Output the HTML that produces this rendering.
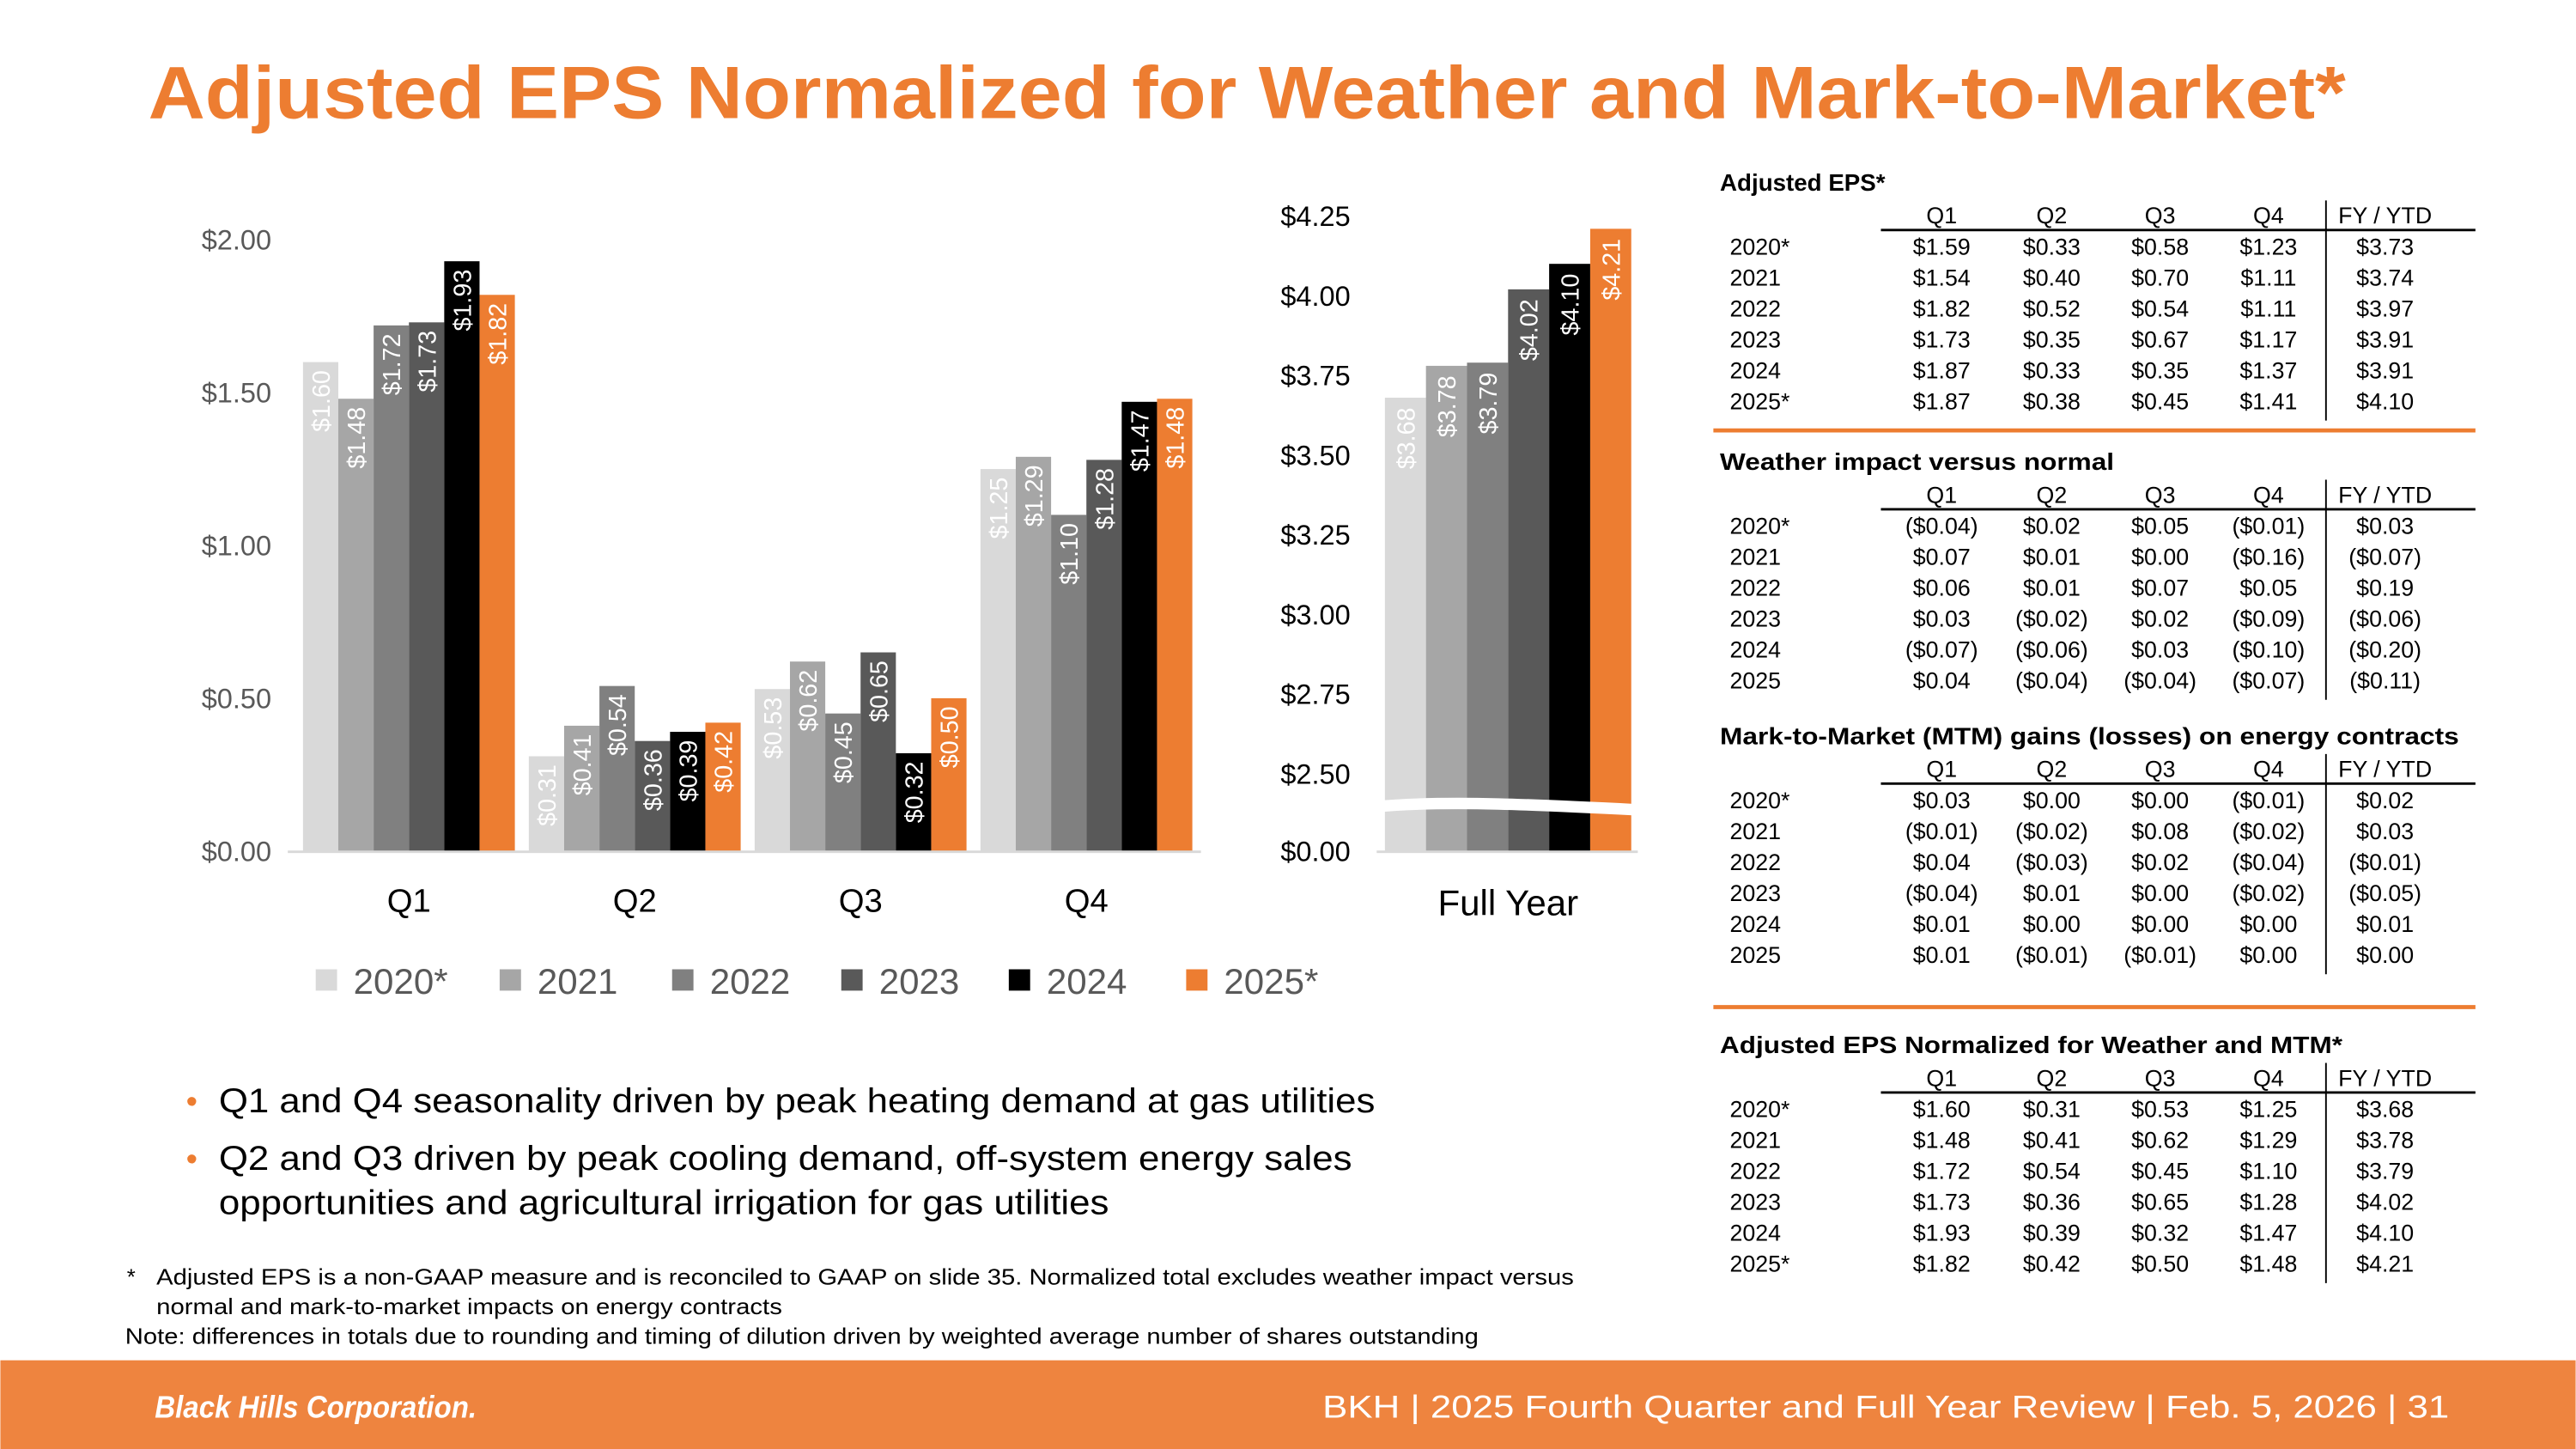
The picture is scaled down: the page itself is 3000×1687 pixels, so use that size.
<!DOCTYPE html>
<html><head><meta charset="utf-8">
<style>
html,body{margin:0;padding:0;background:#fff;}
svg{display:block;font-family:"Liberation Sans",sans-serif;}
</style></head>
<body>
<svg id="s" width="3000" height="1687" viewBox="0 0 1568 882" xmlns="http://www.w3.org/2000/svg">
<rect x="0" y="0" width="1568" height="882" fill="#fff"/>
<text x="90" y="72" font-size="45" font-weight="bold" fill="#ED7D31" textLength="1338" lengthAdjust="spacingAndGlyphs">Adjusted EPS Normalized for Weather and Mark-to-Market*</text>
<g id="qchart"></g>
<g id="fychart"></g>
<g id="legend"></g>
<g id="tables"></g>
<g font-size="21" fill="#000">
<text x="113" y="677" fill="#ED7D31" font-size="20">•</text>
<text x="133" y="677" textLength="704" lengthAdjust="spacingAndGlyphs">Q1 and Q4 seasonality driven by peak heating demand at gas utilities</text>
<text x="113" y="712" fill="#ED7D31" font-size="20">•</text>
<text x="133" y="712" textLength="690" lengthAdjust="spacingAndGlyphs">Q2 and Q3 driven by peak cooling demand, off-system energy sales</text>
<text x="133" y="739" textLength="542" lengthAdjust="spacingAndGlyphs">opportunities and agricultural irrigation for gas utilities</text>
</g>
<g font-size="13.5" fill="#000">
<text x="77" y="782">*</text>
<text x="95" y="782" textLength="863" lengthAdjust="spacingAndGlyphs">Adjusted EPS is a non-GAAP measure and is reconciled to GAAP on slide 35. Normalized total excludes weather impact versus</text>
<text x="95" y="800" textLength="381" lengthAdjust="spacingAndGlyphs">normal and mark-to-market impacts on energy contracts</text>
<text x="76" y="818" textLength="824" lengthAdjust="spacingAndGlyphs">Note: differences in totals due to rounding and timing of dilution driven by weighted average number of shares outstanding</text>
</g>
<rect x="0" y="828" width="1568" height="54" fill="#EE843F"/>
<text x="94" y="863" font-size="19" font-weight="bold" font-style="italic" fill="#fff" textLength="196" lengthAdjust="spacingAndGlyphs">Black Hills Corporation.</text>
<text x="805" y="863" font-size="19.5" fill="#fff" textLength="686" lengthAdjust="spacingAndGlyphs">BKH  |  2025 Fourth Quarter and Full Year Review  |  Feb. 5, 2026  |  31</text>
</svg>
<script>
const quarters=["Q1","Q2","Q3","Q4"];
const years=["2020*","2021","2022","2023","2024","2025*"];
const colors=["#D9D9D9","#A6A6A6","#808080","#595959","#000000","#ED7D31"];
const s2020=[1.60,0.31,0.53,1.25];
const s2021=[1.48,0.41,0.62,1.29];
const s2022=[1.72,0.54,0.45,1.10];
const s2023=[1.73,0.36,0.65,1.28];
const s2024=[1.93,0.39,0.32,1.47];
const s2025=[1.82,0.42,0.50,1.48];
const series=[s2020,s2021,s2022,s2023,s2024,s2025];
const qTicks=[0,0.5,1.0,1.5,2.0];
const fyValues=[3.68,3.78,3.79,4.02,4.10,4.21];
const fyTicks=[0,2.5,2.75,3.0,3.25,3.5,3.75,4.0,4.25];

const NS="http://www.w3.org/2000/svg";
function mk(p,tag,a,txt){const e=document.createElementNS(NS,tag);for(const k in a)e.setAttribute(k,a[k]);if(txt!=null)e.textContent=txt;p.appendChild(e);return e;}
const fmt=v=>"$"+v.toFixed(2);

const qc=document.getElementById('qchart');
const qBase=518, qPer=186;
const qy=v=>qBase-v*qPer;
const qx0=180, qCat=137.5, bw=21.5;
qTicks.forEach(t=>{
  const e=mk(qc,'text',{x:165,y:qy(t)+6,'font-size':17,fill:'#595959','text-anchor':'end'},fmt(t));
  
  
});
quarters.forEach((q,i)=>{
  const cx=qx0+qCat*(i+0.5);
  series.forEach((ser,j)=>{
    const v=ser[i];const x=cx-3*bw+j*bw;
    const r=mk(qc,'rect',{x:x,y:qy(v),width:bw,height:v*qPer,fill:colors[j]});
    
    
    const tx=x+bw/2+5.5, ty=qy(v)+5;
    const l=mk(qc,'text',{x:tx,y:ty,'font-size':15,fill:'#fff','text-anchor':'end',transform:`rotate(-90 ${tx} ${ty})`},fmt(v));
    
    
  });
  const c=mk(qc,'text',{x:cx,y:555,'font-size':20,fill:'#000','text-anchor':'middle'},q);
  
  
});
const ax=mk(qc,'line',{x1:175,y1:qBase+0.5,x2:731,y2:qBase+0.5,stroke:'#D9D9D9','stroke-width':1.5});



const fc=document.getElementById('fychart');
const fyBase=518, fyBreak=471, fyPer=194;
const fy=v=>v<=0?fyBase:fyBreak-(v-2.5)*fyPer;
fyTicks.forEach(t=>{
  const e=mk(fc,'text',{x:822,y:fy(t)+6,'font-size':17,fill:'#000','text-anchor':'end'},fmt(t));
  
  
});
const fbw=25, fx0=843;
fyValues.forEach((v,j)=>{
  const x=fx0+j*fbw;
  const r=mk(fc,'rect',{x:x,y:fy(v),width:fbw,height:fyBase-fy(v),fill:colors[j]});
  
  
  const tx=x+fbw/2+5.5, ty=fy(v)+6;
  const l=mk(fc,'text',{x:tx,y:ty,'font-size':15,fill:'#fff','text-anchor':'end',transform:`rotate(-90 ${tx} ${ty})`},fmt(v));
  
  
});
const brk=mk(fc,'path',{d:'M838 491 C 880 487, 940 490, 998 493',stroke:'#fff','stroke-width':7,fill:'none'});


const fax=mk(fc,'line',{x1:838,y1:fyBase+0.5,x2:997,y2:fyBase+0.5,stroke:'#D9D9D9','stroke-width':1.5});


const fl=mk(fc,'text',{x:918,y:557,'font-size':22,fill:'#000','text-anchor':'middle'},'Full Year');



const lg=document.getElementById('legend');
const lx=[192,304,409,512,614,722];
years.forEach((y,j)=>{
  const g=mk(lg,'g',{});
  
  
  mk(g,'rect',{x:lx[j],y:590,width:13,height:13,fill:colors[j]});
  mk(g,'text',{x:lx[j]+23,y:605,'font-size':22,fill:'#595959'},y);
});

const tb=document.getElementById('tables');
const colX=[1182,1249,1315,1381,1452];
const tableTitles=["Adjusted EPS*","Weather impact versus normal","Mark-to-Market (MTM) gains (losses) on energy contracts","Adjusted EPS Normalized for Weather and MTM*"];
const titleLens=[null,240,450,379];
const tableYears=[["2020*","2021","2022","2023","2024","2025*"],["2020*","2021","2022","2023","2024","2025"],["2020*","2021","2022","2023","2024","2025"],["2020*","2021","2022","2023","2024","2025*"]];
const t1=[["$1.59","$0.33","$0.58","$1.23","$3.73"],["$1.54","$0.40","$0.70","$1.11","$3.74"],["$1.82","$0.52","$0.54","$1.11","$3.97"],["$1.73","$0.35","$0.67","$1.17","$3.91"],["$1.87","$0.33","$0.35","$1.37","$3.91"],["$1.87","$0.38","$0.45","$1.41","$4.10"]];
const t2=[["($0.04)","$0.02","$0.05","($0.01)","$0.03"],["$0.07","$0.01","$0.00","($0.16)","($0.07)"],["$0.06","$0.01","$0.07","$0.05","$0.19"],["$0.03","($0.02)","$0.02","($0.09)","($0.06)"],["($0.07)","($0.06)","$0.03","($0.10)","($0.20)"],["$0.04","($0.04)","($0.04)","($0.07)","($0.11)"]];
const t3=[["$0.03","$0.00","$0.00","($0.01)","$0.02"],["($0.01)","($0.02)","$0.08","($0.02)","$0.03"],["$0.04","($0.03)","$0.02","($0.04)","($0.01)"],["($0.04)","$0.01","$0.00","($0.02)","($0.05)"],["$0.01","$0.00","$0.00","$0.00","$0.01"],["$0.01","($0.01)","($0.01)","$0.00","$0.00"]];
const t4=[["$1.60","$0.31","$0.53","$1.25","$3.68"],["$1.48","$0.41","$0.62","$1.29","$3.78"],["$1.72","$0.54","$0.45","$1.10","$3.79"],["$1.73","$0.36","$0.65","$1.28","$4.02"],["$1.93","$0.39","$0.32","$1.47","$4.10"],["$1.82","$0.42","$0.50","$1.48","$4.21"]];
const tdata=[t1,t2,t3,t4];
const tTop=[111,281,448,636];
const hdr=["Q1","Q2","Q3","Q4","FY / YTD"];
tdata.forEach((d,k)=>{
  const g=mk(tb,'g',{'font-size':14,fill:'#000'});
  
  
  const T=tTop[k];
  const ta={x:1047,y:T+5,'font-size':14.5,'font-weight':'bold'};
  if(titleLens[k]){ta.textLength=titleLens[k];ta.lengthAdjust='spacingAndGlyphs';}
  mk(g,'text',ta,tableTitles[k]);
  hdr.forEach((h,c)=>mk(g,'text',{x:colX[c],y:T+25,'text-anchor':'middle'},h));
  mk(g,'line',{x1:1145,y1:T+29,x2:1507,y2:T+29,stroke:'#000','stroke-width':1.5});
  mk(g,'line',{x1:1416,y1:T+11,x2:1416,y2:T+145,stroke:'#000','stroke-width':1});
  d.forEach((row,r)=>{
    const y=T+44+r*18.8;
    mk(g,'text',{x:1053,y:y},tableYears[k][r]);
    row.forEach((v,c)=>mk(g,'text',{x:colX[c],y:y,'text-anchor':'middle'},v));
  });
});
[262,613].forEach(y=>{
  const l=mk(tb,'line',{x1:1043,y1:y,x2:1507,y2:y,stroke:'#ED7D31','stroke-width':2.5});
  
  
});
</script>
</body></html>
